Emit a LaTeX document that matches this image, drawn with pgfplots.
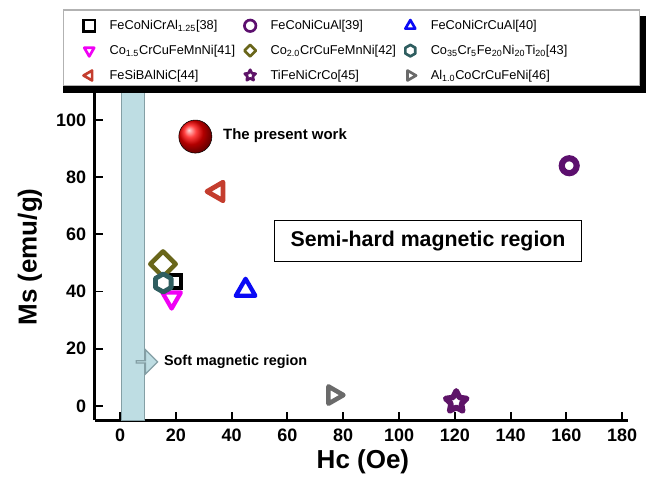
\documentclass[border=0pt]{standalone}
\usepackage{pgfplots}
\pgfplotsset{compat=1.18}
\usepackage{fontspec}
\setmainfont{Liberation Sans}
\usetikzlibrary{shapes.arrows,shapes.geometric}

\definecolor{cpurp}{HTML}{5C0F6E}
\definecolor{cstar}{HTML}{5E1468}
\definecolor{cblue}{HTML}{0A0AF5}
\definecolor{cmag}{HTML}{F000F5}
\definecolor{colive}{HTML}{69661A}
\definecolor{chex}{HTML}{2F5E60}
\definecolor{cleft}{HTML}{C43D2E}
\definecolor{cgray}{HTML}{6A6A6A}
\definecolor{bandfill}{HTML}{BEDDE3}
\definecolor{bandedge}{HTML}{849FA5}

\pgfdeclareplotmark{mysq}{%
  \pgfpathrectangle{\pgfpoint{-\pgfplotmarksize}{-\pgfplotmarksize}}{\pgfpoint{2\pgfplotmarksize}{2\pgfplotmarksize}}%
  \pgfusepathqfillstroke}
\pgfdeclareplotmark{mytri}{%
  \pgfpathmoveto{\pgfpointpolar{90}{\pgfplotmarksize}}%
  \pgfpathlineto{\pgfpointpolar{210}{\pgfplotmarksize}}%
  \pgfpathlineto{\pgfpointpolar{330}{\pgfplotmarksize}}%
  \pgfpathclose
  \pgfusepathqfillstroke}
\pgfdeclareplotmark{mydiam}{%
  \pgfpathmoveto{\pgfpoint{0pt}{\pgfplotmarksize}}%
  \pgfpathlineto{\pgfpoint{\pgfplotmarksize}{0pt}}%
  \pgfpathlineto{\pgfpoint{0pt}{-\pgfplotmarksize}}%
  \pgfpathlineto{\pgfpoint{-\pgfplotmarksize}{0pt}}%
  \pgfpathclose
  \pgfusepathqfillstroke}
\pgfdeclareplotmark{myhex}{%
  \pgfpathmoveto{\pgfpointpolar{90}{\pgfplotmarksize}}%
  \pgfpathlineto{\pgfpointpolar{150}{\pgfplotmarksize}}%
  \pgfpathlineto{\pgfpointpolar{210}{\pgfplotmarksize}}%
  \pgfpathlineto{\pgfpointpolar{270}{\pgfplotmarksize}}%
  \pgfpathlineto{\pgfpointpolar{330}{\pgfplotmarksize}}%
  \pgfpathlineto{\pgfpointpolar{30}{\pgfplotmarksize}}%
  \pgfpathclose
  \pgfusepathqfillstroke}
\pgfdeclareplotmark{mycirc}{%
  \pgfpathcircle{\pgfpointorigin}{\pgfplotmarksize}%
  \pgfusepathqfillstroke}
\pgfdeclareplotmark{mystar}{%
  \pgfpathmoveto{\pgfpointpolar{90}{\pgfplotmarksize}}%
  \pgfpathlineto{\pgfpointpolar{126}{0.5\pgfplotmarksize}}%
  \pgfpathlineto{\pgfpointpolar{162}{\pgfplotmarksize}}%
  \pgfpathlineto{\pgfpointpolar{198}{0.5\pgfplotmarksize}}%
  \pgfpathlineto{\pgfpointpolar{234}{\pgfplotmarksize}}%
  \pgfpathlineto{\pgfpointpolar{270}{0.5\pgfplotmarksize}}%
  \pgfpathlineto{\pgfpointpolar{306}{\pgfplotmarksize}}%
  \pgfpathlineto{\pgfpointpolar{342}{0.5\pgfplotmarksize}}%
  \pgfpathlineto{\pgfpointpolar{18}{\pgfplotmarksize}}%
  \pgfpathlineto{\pgfpointpolar{54}{0.5\pgfplotmarksize}}%
  \pgfpathclose
  \pgfusepathqfillstroke}

\newcommand{\sub}[1]{\textsubscript{#1}}

\begin{document}
\begin{tikzpicture}
\begin{axis}[
  name=ax,
  scale only axis,
  width=399.75pt, height=248.85pt,
  xmin=-9, xmax=182, ymin=-5, ymax=111,
  axis lines*=left,
  axis line style={line width=2.2pt, black},
  tick align=inside,
  major tick length=6pt,
  tick style={line width=1.4pt, black},
  xtick={0,20,...,180}, ytick={0,20,...,100},
  /pgf/number format/assume math mode=true,
  ticklabel style={font=\bfseries\fontsize{13.5}{15}\selectfont},
  xticklabel style={yshift=-3pt},
  yticklabel style={xshift=-3pt},
  xlabel={Hc (Oe)}, ylabel={Ms (emu/g)},
  label style={font=\bfseries\fontsize{19.5}{22}\selectfont},
  xlabel style={at={(axis description cs:0.503,-0.1257)}, anchor=center},
  ylabel style={at={(axis description cs:-0.1218,0.492)}, anchor=center, rotate=0},
  clip=false,
  legend columns=3,
  legend cell align=left,
  legend style={draw=none, fill=none, at={(rel axis cs:-0.0244,1.219)}, anchor=north west,
    font=\fontsize{9.6}{11}\selectfont, row sep=6.2pt, inner sep=1pt,
    /tikz/every odd column/.append style={column sep=9pt},
    /tikz/every even column/.append style={column sep=5pt}},
  legend image post style={mark size=4.3pt, line width=2pt},
]
% soft magnetic band
\addplot[fill=bandfill, draw=bandedge, line width=0.9pt, forget plot]
  coordinates {(0.6,-5) (8.7,-5) (8.7,111) (0.6,111)} -- cycle;

% legend frame
\draw[gray!60, line width=0.8pt, fill=white] (rel axis cs:-0.0598,1.0075) rectangle (rel axis cs:1.0227,1.2366);

\addplot[only marks, draw=black, fill=white, mark=mysq, mark size=5.2pt, line width=3pt]
  coordinates {(19.5,43.5)};
\addlegendentry{FeCoNiCrAl\sub{1.25}[38]}
\addplot[only marks, draw=cpurp, fill=white, mark=mycirc, mark size=5.6pt, line width=4.6pt]
  coordinates {(161,84)};
\addlegendentry{FeCoNiCuAl[39]}
\addplot[only marks, draw=cblue, fill=white, mark=mytri, mark size=8.5pt, line width=3.2pt, line join=round]
  coordinates {(45,40.5)};
\addlegendentry{FeCoNiCrCuAl[40]}
\addplot[only marks, draw=cmag, fill=white, mark=mytri, mark options={rotate=180}, mark size=8pt, line width=3.2pt, line join=round]
  coordinates {(18.5,37.8)};
\addlegendentry{Co\sub{1.5}CrCuFeMnNi[41]}
\addplot[only marks, draw=colive, fill=white, mark=mydiam, mark size=9.5pt, line width=3.4pt, line join=round]
  coordinates {(15.4,49.6)};
\addlegendentry{Co\sub{2.0}CrCuFeMnNi[42]}
\addplot[only marks, draw=chex, fill=white, mark=myhex, mark size=6.8pt, line width=3.6pt, line join=round]
  coordinates {(15.5,43)};
\addlegendentry{Co\sub{35}Cr\sub{5}Fe\sub{20}Ni\sub{20}Ti\sub{20}[43]}
\addplot[only marks, draw=cleft, fill=white, mark=mytri, mark options={rotate=90}, mark size=8pt, line width=3.6pt, line join=round]
  coordinates {(35,75)};
\addlegendentry{FeSiBAlNiC[44]}
\addplot[only marks, draw=cstar, fill=white, mark=mystar, mark size=8.3pt, line width=4.2pt, line join=round]
  coordinates {(120.5,1.4)};
\addlegendentry{TiFeNiCrCo[45]}
\addplot[only marks, draw=cgray, fill=white, mark=mytri, mark options={rotate=-90}, mark size=7.5pt, line width=3.4pt, line join=round]
  coordinates {(76.5,3.8)};
\addlegendentry{Al\sub{1.0}CoCrCuFeNi[46]}

% present work
\addplot[only marks, mark=ball, mark size=12.4pt, ball color=red, forget plot]
  coordinates {(27,94.2)};
\node[anchor=west, font=\bfseries\fontsize{11.2}{13}\selectfont] at (axis cs:35.3,94.4) {The present work};

% semi-hard box
\node[draw, line width=0.9pt, inner xsep=12pt, inner ysep=8pt, font=\bfseries\fontsize{16}{18}\selectfont]
  at (axis cs:110.4,57.7) {Semi-hard magnetic region};

% soft arrow
\node[single arrow, draw=bandedge, fill=bandfill, line width=0.9pt, inner sep=0pt,
  minimum width=18pt, minimum height=16pt, single arrow head extend=4.5pt, anchor=west]
  at (axis cs:5.6,15.4) {};
\node[anchor=west, font=\bfseries\fontsize{10.8}{13}\selectfont] at (axis cs:14.1,15.4) {Soft magnetic region};
\end{axis}
% legend shadow (bottom and right strips)
\fill[black] ([shift={(-23.9pt,-3.6pt)}]ax.north west) rectangle ([shift={(13.65pt,1.7pt)}]ax.north east);
\fill[black] ([shift={(9.2pt,-3.6pt)}]ax.north east) rectangle ([shift={(13.65pt,54.4pt)}]ax.north east);
\pgfresetboundingbox
\path ([shift={(-71.2pt,-48.5pt)}]ax.south west) rectangle ([shift={(13.65pt,66.4pt)}]ax.north east);
\end{tikzpicture}
\end{document}
